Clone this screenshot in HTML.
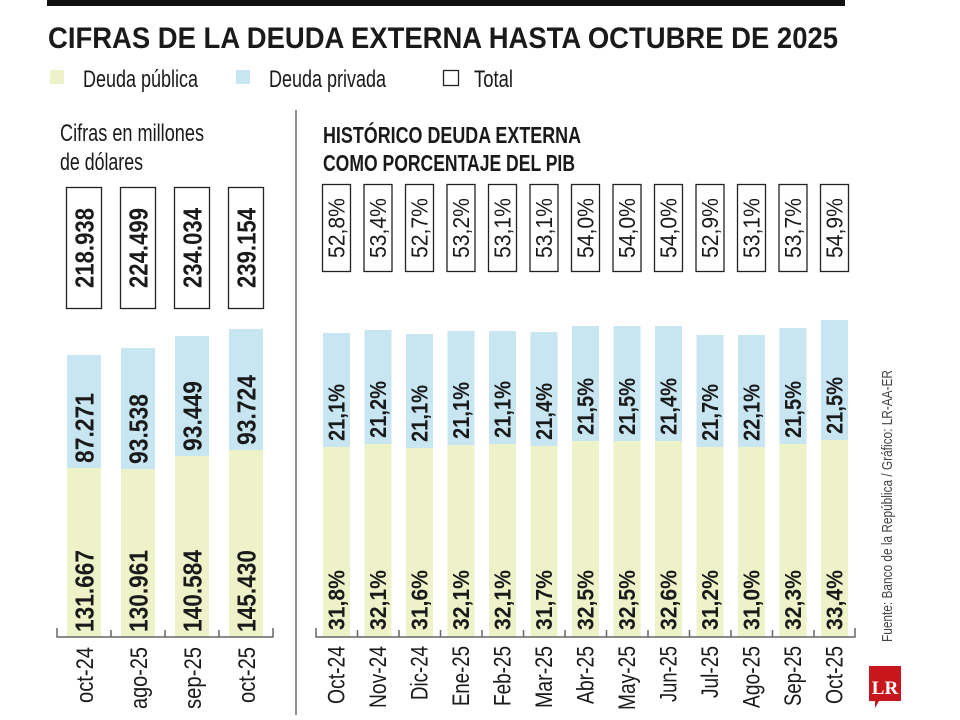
<!DOCTYPE html>
<html><head><meta charset="utf-8"><style>
html,body{margin:0;padding:0;background:#fff;}
svg{display:block;}
text{font-family:"Liberation Sans",sans-serif;fill:#1a1a1a;}
.b{font-weight:bold;}
</style></head><body>
<svg width="960" height="720" viewBox="0 0 960 720" xmlns="http://www.w3.org/2000/svg">
<rect x="47" y="0" width="798" height="6" fill="#111"/>
<text x="48" y="48" class="b" font-size="30" textLength="790" lengthAdjust="spacingAndGlyphs">CIFRAS DE LA DEUDA EXTERNA HASTA OCTUBRE DE 2025</text>
<rect x="50" y="70" width="14" height="14" fill="#eef2c9"/>
<text x="83" y="87" font-size="24" textLength="115" lengthAdjust="spacingAndGlyphs">Deuda pública</text>
<rect x="236" y="70" width="14" height="14" fill="#c8e6f2"/>
<text x="269" y="87" font-size="24" textLength="117" lengthAdjust="spacingAndGlyphs">Deuda privada</text>
<rect x="443.5" y="70.5" width="15" height="15" fill="none" stroke="#222" stroke-width="1.3"/>
<text x="474" y="87" font-size="24" textLength="39" lengthAdjust="spacingAndGlyphs">Total</text>
<text x="60" y="141" font-size="24" textLength="144" lengthAdjust="spacingAndGlyphs">Cifras en millones</text>
<text x="60" y="170" font-size="24" textLength="83" lengthAdjust="spacingAndGlyphs">de dólares</text>
<text x="323" y="143" class="b" font-size="23" textLength="258" lengthAdjust="spacingAndGlyphs">HISTÓRICO DEUDA EXTERNA</text>
<text x="323" y="171" class="b" font-size="23" textLength="252" lengthAdjust="spacingAndGlyphs">COMO PORCENTAJE DEL PIB</text>
<line x1="296" y1="110" x2="296" y2="715" stroke="#555" stroke-width="1.3"/>

<!-- left chart -->
<g>
<rect x="67" y="355" width="34" height="113" fill="#c8e6f2"/><rect x="67" y="468" width="34" height="169" fill="#eef2c9"/>
<rect x="121" y="348" width="34" height="121" fill="#c8e6f2"/><rect x="121" y="469" width="34" height="168" fill="#eef2c9"/>
<rect x="175" y="336" width="34" height="120" fill="#c8e6f2"/><rect x="175" y="456" width="34" height="181" fill="#eef2c9"/>
<rect x="229" y="329" width="34" height="121" fill="#c8e6f2"/><rect x="229" y="450" width="34" height="187" fill="#eef2c9"/>
<path d="M57 628V637H273V628M111 637V630M165 637V630M219 637V630" fill="none" stroke="#666" stroke-width="1.5"/>
<g fill="none" stroke="#222" stroke-width="1.3">
<rect x="66.5" y="187.5" width="35" height="121"/><rect x="120.5" y="187.5" width="35" height="121"/>
<rect x="174.5" y="187.5" width="35" height="121"/><rect x="228.5" y="187.5" width="35" height="121"/>
</g>
<g class="b" font-size="26">
<text transform="translate(93.5,248) rotate(-90)" text-anchor="middle" textLength="80" lengthAdjust="spacingAndGlyphs">218.938</text>
<text transform="translate(147.5,248) rotate(-90)" text-anchor="middle" textLength="80" lengthAdjust="spacingAndGlyphs">224.499</text>
<text transform="translate(201.5,248) rotate(-90)" text-anchor="middle" textLength="80" lengthAdjust="spacingAndGlyphs">234.034</text>
<text transform="translate(255.5,248) rotate(-90)" text-anchor="middle" textLength="80" lengthAdjust="spacingAndGlyphs">239.154</text>
<text transform="translate(93.5,463) rotate(-90)" textLength="70" lengthAdjust="spacingAndGlyphs">87.271</text>
<text transform="translate(147.5,464) rotate(-90)" textLength="70" lengthAdjust="spacingAndGlyphs">93.538</text>
<text transform="translate(201.5,451) rotate(-90)" textLength="70" lengthAdjust="spacingAndGlyphs">93.449</text>
<text transform="translate(255.5,445) rotate(-90)" textLength="70" lengthAdjust="spacingAndGlyphs">93.724</text>
<text transform="translate(93.5,632) rotate(-90)" textLength="82" lengthAdjust="spacingAndGlyphs">131.667</text>
<text transform="translate(147.5,632) rotate(-90)" textLength="82" lengthAdjust="spacingAndGlyphs">130.961</text>
<text transform="translate(201.5,632) rotate(-90)" textLength="82" lengthAdjust="spacingAndGlyphs">140.584</text>
<text transform="translate(255.5,632) rotate(-90)" textLength="82" lengthAdjust="spacingAndGlyphs">145.430</text>
</g>
<g font-size="24" text-anchor="end">
<text transform="translate(93,647) rotate(-90)" textLength="56" lengthAdjust="spacingAndGlyphs">oct-24</text>
<text transform="translate(147,647) rotate(-90)" textLength="62" lengthAdjust="spacingAndGlyphs">ago-25</text>
<text transform="translate(201,647) rotate(-90)" textLength="62" lengthAdjust="spacingAndGlyphs">sep-25</text>
<text transform="translate(255,647) rotate(-90)" textLength="56" lengthAdjust="spacingAndGlyphs">oct-25</text>
</g>
</g>

<!-- right chart -->
<g>
<g fill="#c8e6f2">
<rect x="323" y="333" width="27" height="114"/><rect x="364.5" y="330" width="27" height="114"/>
<rect x="406" y="334" width="27" height="114"/><rect x="447.5" y="331" width="27" height="114"/>
<rect x="489" y="331" width="27" height="113"/><rect x="530.5" y="332" width="27" height="114"/>
<rect x="572" y="326" width="27" height="115"/><rect x="613.5" y="326" width="27" height="115"/>
<rect x="655" y="326" width="27" height="115"/><rect x="696.5" y="335" width="27" height="112"/>
<rect x="738" y="335" width="27" height="112"/><rect x="779.5" y="328" width="27" height="116"/>
<rect x="821" y="320" width="27" height="120"/>
</g>
<g fill="#eef2c9">
<rect x="323" y="447" width="27" height="190"/><rect x="364.5" y="444" width="27" height="193"/>
<rect x="406" y="448" width="27" height="189"/><rect x="447.5" y="445" width="27" height="192"/>
<rect x="489" y="444" width="27" height="193"/><rect x="530.5" y="446" width="27" height="191"/>
<rect x="572" y="441" width="27" height="196"/><rect x="613.5" y="441" width="27" height="196"/>
<rect x="655" y="441" width="27" height="196"/><rect x="696.5" y="447" width="27" height="190"/>
<rect x="738" y="447" width="27" height="190"/><rect x="779.5" y="444" width="27" height="193"/>
<rect x="821" y="440" width="27" height="197"/>
</g>
<path d="M316 628V637H855V628M357.5 637V630M399 637V630M440.5 637V630M482 637V630M523.5 637V630M565 637V630M606.5 637V630M648 637V630M689.5 637V630M731 637V630M772.5 637V630M814 637V630" fill="none" stroke="#666" stroke-width="1.5"/>
<g fill="none" stroke="#222" stroke-width="1.3">
<rect x="322.5" y="184.5" width="28" height="87"/><rect x="364" y="184.5" width="28" height="87"/>
<rect x="405.5" y="184.5" width="28" height="87"/><rect x="447" y="184.5" width="28" height="87"/>
<rect x="488.5" y="184.5" width="28" height="87"/><rect x="530" y="184.5" width="28" height="87"/>
<rect x="571.5" y="184.5" width="28" height="87"/><rect x="613" y="184.5" width="28" height="87"/>
<rect x="654.5" y="184.5" width="28" height="87"/><rect x="696" y="184.5" width="28" height="87"/>
<rect x="737.5" y="184.5" width="28" height="87"/><rect x="779" y="184.5" width="28" height="87"/>
<rect x="820.5" y="184.5" width="28" height="87"/>
</g>
<g font-size="23" text-anchor="middle">
<text transform="translate(344.5,228) rotate(-90)" textLength="60" lengthAdjust="spacingAndGlyphs">52,8%</text>
<text transform="translate(386,228) rotate(-90)" textLength="60" lengthAdjust="spacingAndGlyphs">53,4%</text>
<text transform="translate(427.5,228) rotate(-90)" textLength="60" lengthAdjust="spacingAndGlyphs">52,7%</text>
<text transform="translate(469,228) rotate(-90)" textLength="60" lengthAdjust="spacingAndGlyphs">53,2%</text>
<text transform="translate(510.5,228) rotate(-90)" textLength="60" lengthAdjust="spacingAndGlyphs">53,1%</text>
<text transform="translate(552,228) rotate(-90)" textLength="60" lengthAdjust="spacingAndGlyphs">53,1%</text>
<text transform="translate(593.5,228) rotate(-90)" textLength="60" lengthAdjust="spacingAndGlyphs">54,0%</text>
<text transform="translate(635,228) rotate(-90)" textLength="60" lengthAdjust="spacingAndGlyphs">54,0%</text>
<text transform="translate(676.5,228) rotate(-90)" textLength="60" lengthAdjust="spacingAndGlyphs">54,0%</text>
<text transform="translate(718,228) rotate(-90)" textLength="60" lengthAdjust="spacingAndGlyphs">52,9%</text>
<text transform="translate(759.5,228) rotate(-90)" textLength="60" lengthAdjust="spacingAndGlyphs">53,1%</text>
<text transform="translate(801,228) rotate(-90)" textLength="60" lengthAdjust="spacingAndGlyphs">53,7%</text>
<text transform="translate(842.5,228) rotate(-90)" textLength="60" lengthAdjust="spacingAndGlyphs">54,9%</text>
</g>
<g class="b" font-size="23">
<text transform="translate(344.5,441) rotate(-90)" textLength="57" lengthAdjust="spacingAndGlyphs">21,1%</text>
<text transform="translate(386,438) rotate(-90)" textLength="57" lengthAdjust="spacingAndGlyphs">21,2%</text>
<text transform="translate(427.5,442) rotate(-90)" textLength="57" lengthAdjust="spacingAndGlyphs">21,1%</text>
<text transform="translate(469,439) rotate(-90)" textLength="57" lengthAdjust="spacingAndGlyphs">21,1%</text>
<text transform="translate(510.5,438) rotate(-90)" textLength="57" lengthAdjust="spacingAndGlyphs">21,1%</text>
<text transform="translate(552,440) rotate(-90)" textLength="57" lengthAdjust="spacingAndGlyphs">21,4%</text>
<text transform="translate(593.5,435) rotate(-90)" textLength="57" lengthAdjust="spacingAndGlyphs">21,5%</text>
<text transform="translate(635,435) rotate(-90)" textLength="57" lengthAdjust="spacingAndGlyphs">21,5%</text>
<text transform="translate(676.5,435) rotate(-90)" textLength="57" lengthAdjust="spacingAndGlyphs">21,4%</text>
<text transform="translate(718,441) rotate(-90)" textLength="57" lengthAdjust="spacingAndGlyphs">21,7%</text>
<text transform="translate(759.5,441) rotate(-90)" textLength="57" lengthAdjust="spacingAndGlyphs">22,1%</text>
<text transform="translate(801,438) rotate(-90)" textLength="57" lengthAdjust="spacingAndGlyphs">21,5%</text>
<text transform="translate(842.5,434) rotate(-90)" textLength="57" lengthAdjust="spacingAndGlyphs">21,5%</text>
<text transform="translate(344.5,630) rotate(-90)" textLength="60" lengthAdjust="spacingAndGlyphs">31,8%</text>
<text transform="translate(386,630) rotate(-90)" textLength="60" lengthAdjust="spacingAndGlyphs">32,1%</text>
<text transform="translate(427.5,630) rotate(-90)" textLength="60" lengthAdjust="spacingAndGlyphs">31,6%</text>
<text transform="translate(469,630) rotate(-90)" textLength="60" lengthAdjust="spacingAndGlyphs">32,1%</text>
<text transform="translate(510.5,630) rotate(-90)" textLength="60" lengthAdjust="spacingAndGlyphs">32,1%</text>
<text transform="translate(552,630) rotate(-90)" textLength="60" lengthAdjust="spacingAndGlyphs">31,7%</text>
<text transform="translate(593.5,630) rotate(-90)" textLength="60" lengthAdjust="spacingAndGlyphs">32,5%</text>
<text transform="translate(635,630) rotate(-90)" textLength="60" lengthAdjust="spacingAndGlyphs">32,5%</text>
<text transform="translate(676.5,630) rotate(-90)" textLength="60" lengthAdjust="spacingAndGlyphs">32,6%</text>
<text transform="translate(718,630) rotate(-90)" textLength="60" lengthAdjust="spacingAndGlyphs">31,2%</text>
<text transform="translate(759.5,630) rotate(-90)" textLength="60" lengthAdjust="spacingAndGlyphs">31,0%</text>
<text transform="translate(801,630) rotate(-90)" textLength="60" lengthAdjust="spacingAndGlyphs">32,3%</text>
<text transform="translate(842.5,630) rotate(-90)" textLength="60" lengthAdjust="spacingAndGlyphs">33,4%</text>
</g>
<g font-size="24" text-anchor="end">
<text transform="translate(344.5,646) rotate(-90)" textLength="58" lengthAdjust="spacingAndGlyphs">Oct-24</text>
<text transform="translate(386,646) rotate(-90)" textLength="62" lengthAdjust="spacingAndGlyphs">Nov-24</text>
<text transform="translate(427.5,646) rotate(-90)" textLength="54" lengthAdjust="spacingAndGlyphs">Dic-24</text>
<text transform="translate(469,646) rotate(-90)" textLength="60" lengthAdjust="spacingAndGlyphs">Ene-25</text>
<text transform="translate(510.5,646) rotate(-90)" textLength="60" lengthAdjust="spacingAndGlyphs">Feb-25</text>
<text transform="translate(552,646) rotate(-90)" textLength="62" lengthAdjust="spacingAndGlyphs">Mar-25</text>
<text transform="translate(593.5,646) rotate(-90)" textLength="58" lengthAdjust="spacingAndGlyphs">Abr-25</text>
<text transform="translate(635,646) rotate(-90)" textLength="64" lengthAdjust="spacingAndGlyphs">May-25</text>
<text transform="translate(676.5,646) rotate(-90)" textLength="56" lengthAdjust="spacingAndGlyphs">Jun-25</text>
<text transform="translate(718,646) rotate(-90)" textLength="52" lengthAdjust="spacingAndGlyphs">Jul-25</text>
<text transform="translate(759.5,646) rotate(-90)" textLength="62" lengthAdjust="spacingAndGlyphs">Ago-25</text>
<text transform="translate(801,646) rotate(-90)" textLength="60" lengthAdjust="spacingAndGlyphs">Sep-25</text>
<text transform="translate(842.5,646) rotate(-90)" textLength="58" lengthAdjust="spacingAndGlyphs">Oct-25</text>
</g>
</g>

<text transform="translate(892,642) rotate(-90)" font-size="15" style="fill:#444" textLength="272" lengthAdjust="spacingAndGlyphs">Fuente: Banco de la República / Gráfico: LR-AA-ER</text>
<path d="M869 666H901V701H879L875 708V701H869Z" fill="#c8161d"/>
<text x="885" y="694" text-anchor="middle" font-weight="bold" font-size="19" style="fill:#fff;font-family:'Liberation Serif',serif">LR</text>
</svg>
</body></html>
